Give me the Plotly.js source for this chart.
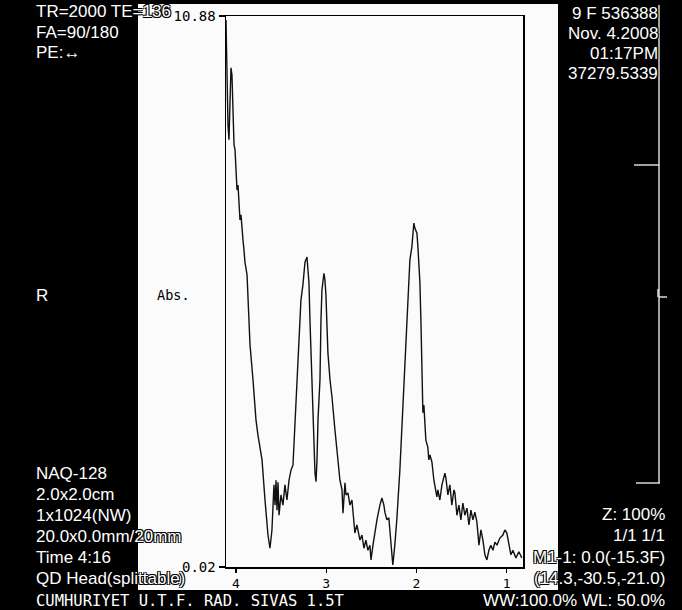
<!DOCTYPE html>
<html>
<head>
<meta charset="utf-8">
<script src="https://cdn.plot.ly/plotly-3.0.1.min.js"></script>
<style>html,body{margin:0;padding:0;background:#000;}#chart{width:682px;height:610px;}</style>
</head>
<body>
<div id="chart"></div>
<script>
// chemical shift (ppm)
const ppm = [4.110,4.104,4.099,4.088,4.077,4.066,4.055,4.044,4.032,4.021,4.010,3.999,3.988,3.977,3.966,3.955,3.944,3.933,3.922,3.911,3.900,3.877,3.866,3.855,3.844,3.811,3.778,3.756,3.711,3.678,3.645,3.623,3.601,3.579,3.567,3.556,3.545,3.534,3.523,3.501,3.479,3.457,3.435,3.412,3.390,3.368,3.346,3.324,3.302,3.280,3.258,3.235,3.213,3.202,3.191,3.180,3.158,3.147,3.136,3.124,3.113,3.102,3.091,3.069,3.058,3.047,3.025,3.014,3.003,2.992,2.981,2.958,2.936,2.903,2.881,2.859,2.848,2.825,2.814,2.792,2.781,2.759,2.737,2.715,2.682,2.660,2.626,2.604,2.582,2.560,2.538,2.516,2.504,2.482,2.460,2.438,2.405,2.383,2.361,2.350,2.328,2.306,2.295,2.273,2.262,2.240,2.218,2.184,2.151,2.118,2.095,2.073,2.051,2.029,2.018,1.995,1.984,1.973,1.962,1.951,1.929,1.918,1.896,1.874,1.863,1.851,1.829,1.807,1.774,1.763,1.741,1.718,1.685,1.674,1.652,1.630,1.608,1.585,1.574,1.552,1.530,1.508,1.486,1.464,1.441,1.419,1.397,1.375,1.353,1.331,1.308,1.286,1.264,1.242,1.220,1.198,1.176,1.153,1.131,1.109,1.076,1.043,1.021,0.999,0.976,0.954,0.932,0.899,0.866,0.833];
// absorbance amplitude
const abs = [10.80,9.97,10.41,8.73,8.44,9.22,9.86,9.72,8.83,8.34,8.24,7.94,7.45,7.55,7.25,6.86,6.96,6.62,6.47,6.27,6.03,5.78,5.28,4.89,4.40,3.71,2.92,2.62,2.13,1.34,0.65,0.39,0.75,1.64,1.24,1.73,1.14,1.69,1.04,1.44,1.24,1.64,1.34,1.73,1.93,2.03,2.92,3.71,4.69,5.28,5.58,6.03,6.13,5.87,5.62,4.89,3.71,3.06,2.33,1.87,1.70,2.13,2.92,3.71,4.89,5.48,5.81,5.68,5.38,4.89,4.24,3.71,3.37,2.72,2.33,1.99,1.73,1.54,1.08,1.68,1.44,1.48,1.24,1.34,0.69,0.85,0.55,0.65,0.39,0.55,0.35,0.45,0.16,0.45,0.75,0.95,1.24,1.38,1.24,1.10,0.95,0.99,0.75,0.16,0.06,0.45,0.95,1.93,3.11,4.30,5.28,6.07,6.33,6.80,6.70,6.60,6.33,6.07,5.62,4.89,3.06,3.21,2.52,2.38,2.13,2.23,2.09,1.73,1.40,1.54,1.34,1.64,1.87,1.77,1.44,1.64,1.24,1.54,1.48,1.04,1.24,0.95,1.28,1.04,1.18,0.85,1.14,0.95,1.10,0.91,0.45,0.75,0.55,0.26,0.16,0.35,0.45,0.35,0.51,0.45,0.59,0.65,0.75,0.69,0.45,0.26,0.35,0.20,0.32,0.20];

const xTickVals = [4,3,2,1];
const xTickText = ['4','3','2','1'];
const yTickVals = [0.02,10.88];
const yTickText = ['0.02','10.88'];
const yLabel = 'Abs.';

const leftTop = ['TR=2000 TE=136','FA=90/180','PE:\u2194'];
const leftBottom = ['NAQ-128','2.0x2.0cm','1x1024(NW)','20.0x0.0mm/20mm','Time 4:16','QD Head(splittable)'];
const footer = 'CUMHURIYET U.T.F. RAD. SIVAS 1.5T';
const rightTop = ['9 F 536388','Nov. 4.2008','01:17PM','37279.5339'];
const rightBottom = ['Z: 100%','1/1 1/1','M1-1: 0.0(-15.3F)','(14.3,-30.5,-21.0)','WW:100.0% WL: 50.0%'];

// layout geometry helpers (pixel -> paper)
const L = 226, T = 16, W = 297, H = 551;
const px = x => (x - L) / W;
const py = y => (T + H - y) / H;
const OUT = '1px 1px 0 #000, -1px -1px 0 #000, 1px -1px 0 #000, -1px 1px 0 #000';
const wf = {family: 'Liberation Sans, Arial, sans-serif', size: 17, color: '#fff', shadow: OUT};

const ann = [];
const leftTopY = [12, 32, 52];
leftTop.forEach((t,i) => ann.push({text: t, x: px(34), y: py(leftTopY[i])}));
const leftBotY = [473, 494, 515, 536, 557, 578];
leftBottom.forEach((t,i) => ann.push({text: t, x: px(34), y: py(leftBotY[i])}));
ann.forEach(a => { a.xanchor = 'left'; a.yanchor = 'middle'; a.font = wf; });
ann.push({text: footer, x: px(34), y: py(601), xanchor: 'left', yanchor: 'middle',
  font: {family: 'DejaVu Sans Mono, monospace', size: 15.5, color: '#fff'}});
const rightTopY = [13, 33, 53, 73];
rightTop.forEach((t,i) => ann.push({text: t, x: px(660), y: py(rightTopY[i]), xanchor: 'right', yanchor: 'middle', font: wf}));
const rightBotY = [514, 535, 557, 578, 600];
rightBottom.forEach((t,i) => ann.push({text: t, x: px(667), y: py(rightBotY[i]), xanchor: 'right', yanchor: 'middle', font: wf}));
ann.push({text: 'R', x: px(34), y: py(295), xanchor: 'left', yanchor: 'middle', font: wf});
ann.push({text: yLabel, x: px(155), y: py(295), xanchor: 'left', yanchor: 'middle',
  font: {family: 'DejaVu Sans Mono, monospace', size: 13.5, color: '#000'}});
ann.forEach(a => { a.xref = 'paper'; a.yref = 'paper'; a.showarrow = false; });

const lineW = {color: '#e8e8e8', width: 1.4};
const shapes = [
  {type: 'rect', xref: 'paper', yref: 'paper', layer: 'below', x0: px(138), x1: px(558), y0: py(590), y1: py(4),
   fillcolor: '#fbfbfb', line: {width: 0}},
  {type: 'line', xref: 'paper', yref: 'paper', x0: px(659), x1: px(659), y0: py(5), y1: py(483), line: lineW},
  {type: 'line', xref: 'paper', yref: 'paper', x0: px(634), x1: px(659), y0: py(165), y1: py(165), line: lineW},
  {type: 'line', xref: 'paper', yref: 'paper', x0: px(636), x1: px(660), y0: py(483), y1: py(483), line: lineW},
  {type: 'line', xref: 'paper', yref: 'paper', x0: px(659), x1: px(667), y0: py(297), y1: py(297), line: lineW},
  {type: 'line', xref: 'paper', yref: 'paper', x0: px(658), x1: px(658), y0: py(289), y1: py(297), line: lineW}
];

const tickFont = {family: 'DejaVu Sans Mono, monospace', size: 13, color: '#000'};

const trace = {x: ppm, y: abs, type: 'scatter', mode: 'lines',
  line: {color: '#111', width: 1.4}, hoverinfo: 'skip'};

const layout = {
  width: 682, height: 610, autosize: false,
  margin: {l: L, r: 682 - L - W, t: T, b: 610 - T - H, pad: 0},
  paper_bgcolor: '#000', plot_bgcolor: '#fbfbfb',
  showlegend: false,
  xaxis: {range: [4.11, 0.82], tickvals: xTickVals, ticktext: xTickText, ticks: 'outside', ticklen: 4,
    tickcolor: '#000', tickwidth: 1.3, showgrid: false, zeroline: false, showline: true, mirror: true,
    linecolor: '#000', linewidth: 1.5, tickfont: tickFont},
  yaxis: {range: [0.02, 10.88], tickvals: yTickVals, ticktext: yTickText, ticks: 'outside', ticklen: 6,
    tickcolor: '#000', tickwidth: 1.3, showgrid: false, zeroline: false, showline: true, mirror: true,
    linecolor: '#000', linewidth: 1.5, tickfont: {family: 'DejaVu Sans Mono, monospace', size: 14, color: '#000'}},
  annotations: ann,
  shapes: shapes
};

Plotly.newPlot('chart', [trace], layout, {displayModeBar: false, staticPlot: true});
</script>
</body>
</html>
